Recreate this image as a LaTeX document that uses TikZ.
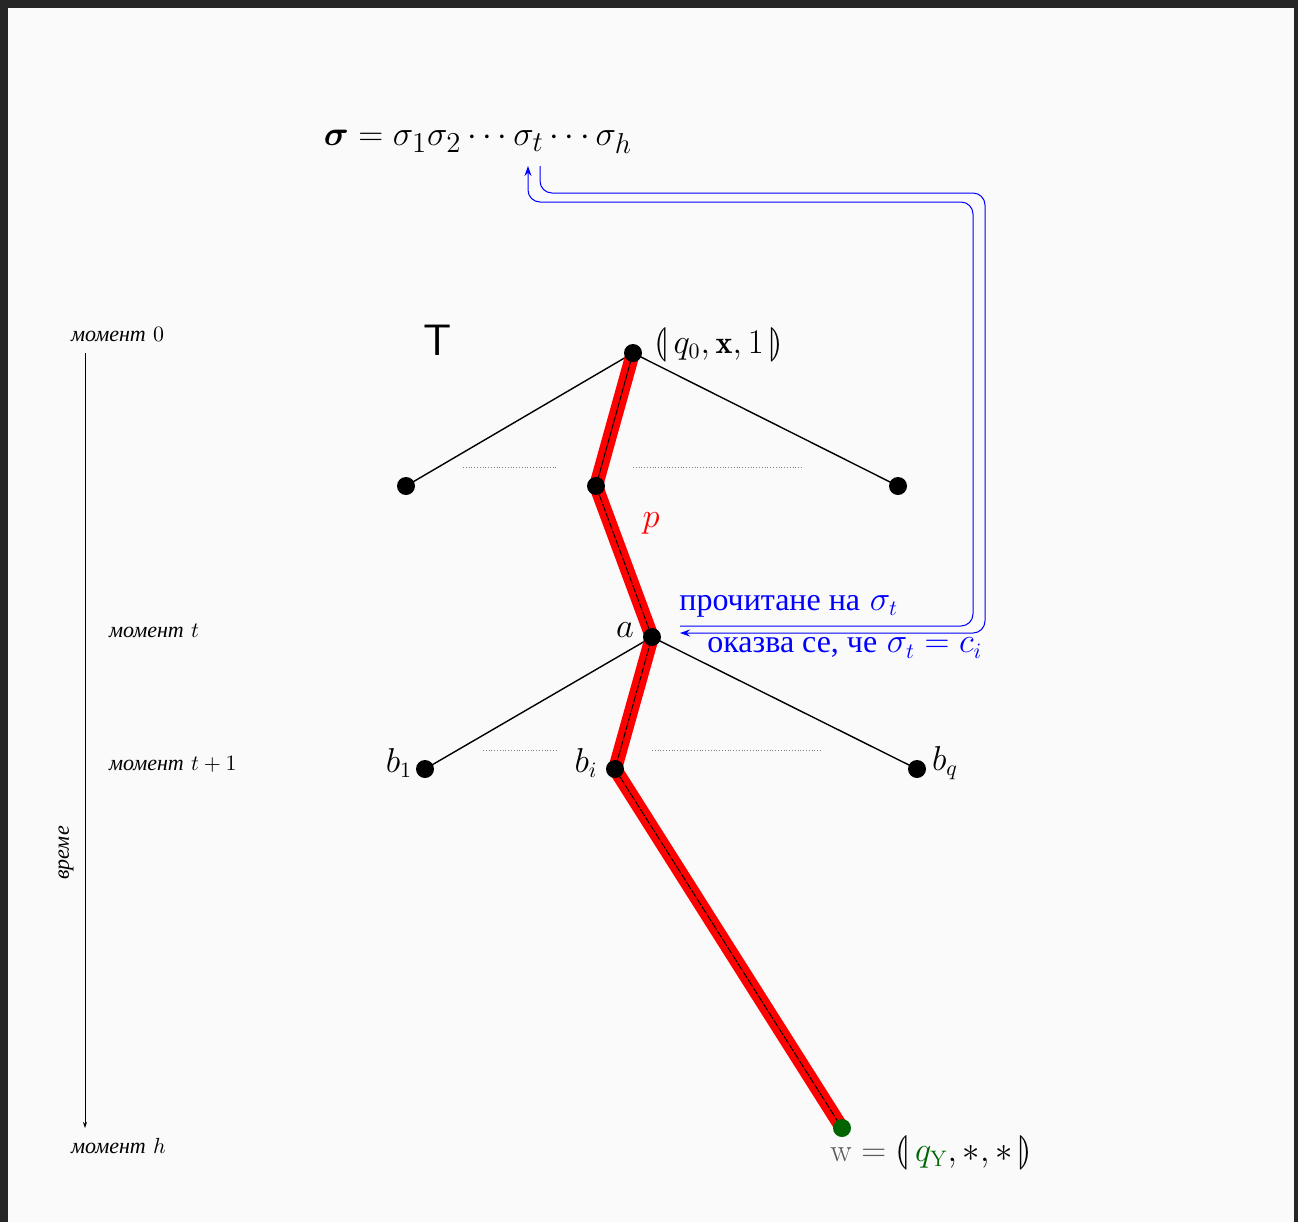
\documentclass[tikz,border=0pt]{standalone}
\usepackage{fontspec}
\usepackage{amsmath}
\IfFileExists{stmaryrd.sty}{\usepackage{stmaryrd}}{%
  \newcommand\llparenthesis{(\mkern-4mu|}\newcommand\rrparenthesis{|\mkern-4mu)}}
\usepackage{xcolor}
\usetikzlibrary{arrows.meta}
\newfontfamily\cyr{Liberation Serif}
\definecolor{paper}{HTML}{FAFAFA}
\definecolor{framegray}{HTML}{262626}
\definecolor{darkgreen}{HTML}{006400}
\definecolor{readblue}{HTML}{0000FF}

\tikzset{
  vertex/.style={circle, fill=black, inner sep=0pt, minimum size=9pt},
  edge/.style={line width=0.7pt},
  redpath/.style={red, line width=7pt, line join=round},
  dots/.style={gray, densely dotted, line width=0.4pt},
  moment/.style={anchor=west, font=\fontsize{11}{13}\selectfont},
  readarrow/.style={readblue, line width=0.5pt, rounded corners=6pt,
    -{Stealth[length=5pt,width=3.5pt]}},
  lbl/.style={font=\fontsize{16}{19}\selectfont, inner sep=1pt},
}

\begin{document}
\begin{tikzpicture}[x=0.5pt, y=-0.5pt]
\useasboundingbox (0,0) rectangle (1298,1222);
% screen frame
\fill[framegray] (0,0) rectangle (1298,1222);
\fill[paper] (8,8) rectangle (1294,1222);

% the word read
\node[font=\fontsize{19}{23}\selectfont] (sigma) at (478,142)
  {$\boldsymbol{\sigma} = \sigma_1\sigma_2\cdots\sigma_t\cdots\sigma_h$};
\coordinate (stin) at (528,166);
\coordinate (stout) at (540,166);

% positions of the tree
\coordinate (root) at (633,353);
\coordinate (l) at (406,486);
\coordinate (m) at (596,486);
\coordinate (r) at (898,486);
\coordinate (a) at (652,637);
\coordinate (b1) at (425,769);
\coordinate (bi) at (615,769);
\coordinate (bq) at (917,769);
\coordinate (w) at (842,1128);

% edges
\draw[edge] (root) -- (l);
\draw[edge] (root) -- (r);
\draw[edge] (a) -- (b1);
\draw[edge] (a) -- (bq);
\draw[dots] (463,467) -- (558,467);
\draw[dots] (633,467) -- (802,467);
\draw[dots] (483,750) -- (556,750);
\draw[dots] (652,750) -- (822,750);

% the path p
\draw[redpath] (root) -- (m) -- (a) -- (bi) -- (w);
\draw[line width=0.5pt] (root) -- (m);
\draw[line width=0.5pt, dash pattern=on 4pt off 0.8pt] (m) -- (a) -- (bi) -- (w);

% vertices
\foreach \v in {root,l,m,r,a,b1,bi,bq}
  \node[vertex] at (\v) {};
\node[vertex, fill=darkgreen] at (w) {};

% labels
\node[lbl, anchor=west] (rootlabel) at (652,345)
  {$\llparenthesis\, q_0, \mathbf{x}, 1 \,\rrparenthesis$};
\node[font=\sffamily\fontsize{22}{26}\selectfont] (tree) at (438,340) {T};
\node[lbl, red] (plabel) at (651,523) {$p$};
\node[lbl] (alabel) at (625,630) {$a$};
\node[lbl] (b1label) at (399,763) {$b_1$};
\node[lbl] (bilabel) at (586,763) {$b_i$};
\node[lbl] (bqlabel) at (945,763) {$b_q$};
\node[lbl] (wlabel) at (931,1153)
  {{\color{gray!70!black}w $=$} $\llparenthesis\, {\color{darkgreen}q_{\mathrm{Y}}}, *, * \,\rrparenthesis$};

% reading sigma_t
\draw[readarrow] ([shift={(28,-11)}]a) -| (973,202) -| (stin);
\draw[readarrow] (stout) |- (985,193) |- ([shift={(28,-4)}]a);
\node[lbl, anchor=west, readblue] (readlabel) at (677,606)
  {{\cyr прочитане на} $\sigma_t$};
\node[lbl, anchor=west, readblue] (foundlabel) at (705,648)
  {{\cyr оказва се, че} $\sigma_t = c_i$};

% time axis
\coordinate (t0) at (85,353);
\coordinate (th) at (85,1128);
\draw[line width=0.5pt, -{Stealth[length=3pt,width=2pt]}] (t0) -- (th);
\node[moment] (m0) at (64,335) {{\cyr\itshape момент} $0$};
\node[moment] (mt) at (102,631) {{\cyr\itshape момент} $t$};
\node[moment] (mt1) at (102,764) {{\cyr\itshape момент} $t+1$};
\node[moment] (mh) at (64,1146) {{\cyr\itshape момент} $h$};
\node[font=\fontsize{11}{13}\selectfont, rotate=90] (time) at (66,853) {{\cyr\itshape време}};
\end{tikzpicture}
\end{document}
